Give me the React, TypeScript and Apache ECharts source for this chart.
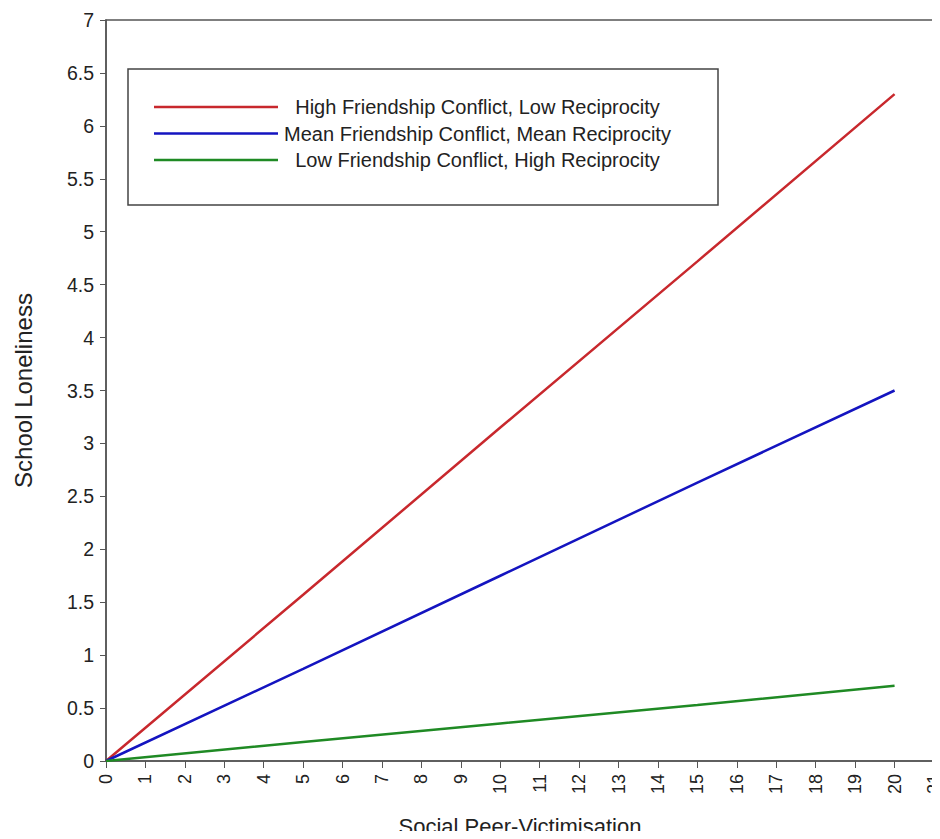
import React, { useEffect, useRef } from "react";
import * as echarts from "echarts";

const victimisation = [0, 5, 10, 15, 20];
const highConflictLowRecip = [0, 1.57, 3.15, 4.72, 6.3];
const meanConflictMeanRecip = [0, 0.87, 1.75, 2.63, 3.5];
const lowConflictHighRecip = [0, 0.18, 0.355, 0.53, 0.71];

const seriesNames = [
  "High Friendship Conflict, Low Reciprocity",
  "Mean Friendship Conflict, Mean Reciprocity",
  "Low Friendship Conflict, High Reciprocity",
];
const seriesColors = ["#c8282d", "#1414c0", "#1f8a24"];
const seriesValues = [highConflictLowRecip, meanConflictMeanRecip, lowConflictHighRecip];

const FONT = "'Liberation Sans', Arial, sans-serif";

export default function App() {
  const ref = useRef<HTMLDivElement>(null);
  useEffect(() => {
    if (!ref.current) return;
    const chart = echarts.init(ref.current, null, { renderer: "svg" });
    chart.setOption({
      animation: false,
      backgroundColor: "#ffffff",
      textStyle: { fontFamily: FONT },
      grid: {
        left: 106,
        right: 6,
        top: 20,
        bottom: 78,
        show: true,
        borderColor: "#555",
        borderWidth: 1.5,
        containLabel: false,
        outerBoundsMode: "none",
      },
      legend: {
        orient: "vertical",
        left: 128,
        top: 69,
        padding: [28, 46, 35, 26],
        icon: "rect",
        itemWidth: 124,
        itemHeight: 2.5,
        itemGap: 6.5,
        borderColor: "#444",
        borderWidth: 1.5,
        backgroundColor: "#fff",
        formatter: (name: string) => "{t|" + name + "}",
        textStyle: {
          fontSize: 20,
          lineHeight: 20,
          color: "#222",
          fontFamily: FONT,
          rich: {
            t: { fontSize: 20, lineHeight: 20, color: "#222", fontFamily: FONT, width: 389, align: "center" },
          },
        },
        data: seriesNames,
      },
      xAxis: {
        type: "value",
        min: 0,
        max: 21,
        interval: 1,
        name: "Social Peer-Victimisation",
        nameLocation: "middle",
        nameGap: 54,
        nameTextStyle: { fontSize: 22, lineHeight: 22, color: "#222", fontFamily: FONT },
        axisLine: { lineStyle: { color: "#555", width: 1.5 } },
        axisTick: { show: true, length: 7, lineStyle: { color: "#555" } },
        axisLabel: { rotate: 90, fontSize: 18, color: "#222", margin: 13, fontFamily: FONT },
        splitLine: { show: false },
      },
      yAxis: {
        type: "value",
        min: 0,
        max: 7,
        interval: 0.5,
        name: "School Loneliness",
        nameLocation: "middle",
        nameGap: 71,
        nameTextStyle: { fontSize: 24, color: "#222", fontFamily: FONT },
        axisLine: { show: true, lineStyle: { color: "#555", width: 1.5 } },
        axisTick: { show: true, length: 6, lineStyle: { color: "#555" } },
        axisLabel: { fontSize: 19.5, color: "#222", margin: 12, fontFamily: FONT },
        splitLine: { show: false },
      },
      series: seriesNames.map((name, i) => ({
        name,
        type: "line",
        symbol: "none",
        data: victimisation.map((x, j) => [x, seriesValues[i][j]]),
        lineStyle: { color: seriesColors[i], width: 2.5 },
        itemStyle: { color: seriesColors[i] },
      })),
    });
    return () => chart.dispose();
  }, []);
  return <div ref={ref} style={{ width: 940, height: 839, margin: -8 }} />;
}
